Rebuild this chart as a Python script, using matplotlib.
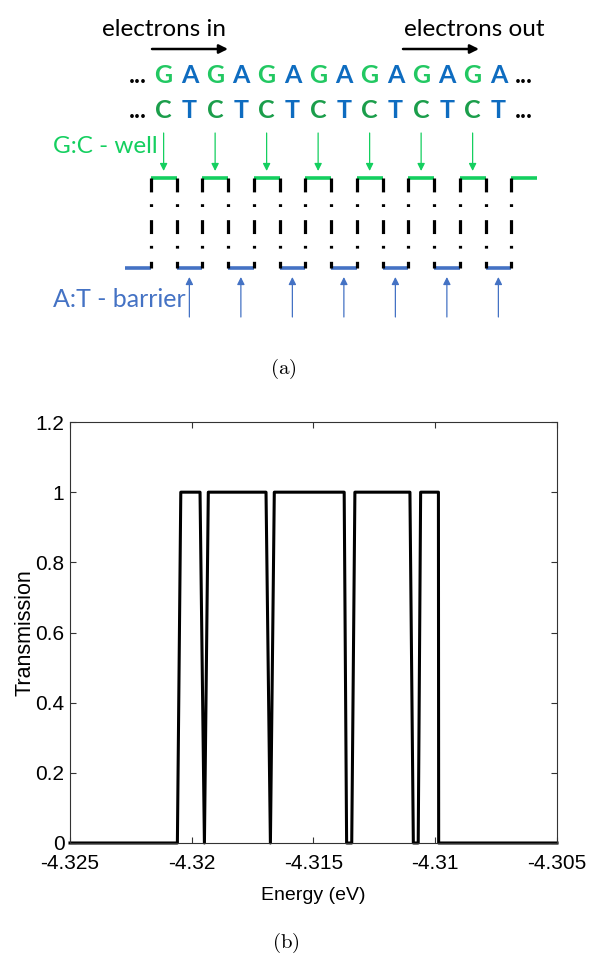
import numpy as np
import matplotlib
matplotlib.use("Agg")
import matplotlib.pyplot as plt

plt.rcParams['lines.scale_dashes'] = False
plt.rcParams['mathtext.fontset'] = 'cm'

# ---- data: panel (a) DNA chain ----
strand_top = list('GAGAGAGAGAGAGA')
strand_bot = list('CTCTCTCTCTCTCT')
profile = ['A:T', 'G:C'] * 8          # level of each site along the chain
base_colors = {'G': '#22c862', 'A': '#0e6cc0', 'C': '#1b9e4b', 'T': '#0e6cc0'}

# ---- data: panel (b) transmission vs energy ----
energy = [-4.325, -4.32059, -4.32045, -4.31966, -4.31948, -4.31932, -4.31695,
          -4.31677, -4.31661, -4.31374, -4.31364, -4.31343, -4.31330, -4.31104,
          -4.31090, -4.31070, -4.31060, -4.30987, -4.30986, -4.305]
trans = [0, 0, 1, 1, 0, 1, 1,
         0, 1, 1, 0, 0, 1, 1,
         0, 0, 1, 1, 0, 0]
xticks = [-4.325, -4.32, -4.315, -4.31, -4.305]
yticks = [0, 0.2, 0.4, 0.6, 0.8, 1.0, 1.2]

green = '#14cf5f'
blue = '#4472c4'

fig = plt.figure(figsize=(5.89, 9.69), dpi=100)

# ================= panel (a) =================
ax = fig.add_axes([0, 1 - 390 / 969, 1, 390 / 969])
ax.set_xlim(0, 589)
ax.set_ylim(390, 0)
ax.axis('off')

x0, w = 125, 25.75          # start of chain and width of one site (px)
y_well, y_bar = 178, 268
lv = {'G:C': y_well, 'A:T': y_bar}
edges = x0 + w * np.arange(len(profile) + 1)
centers = (edges[:-1] + edges[1:]) / 2

for k, p in enumerate(profile):
    ax.plot([edges[k], edges[k + 1]], [lv[p], lv[p]], lw=2.6,
            color=green if p == 'G:C' else blue, solid_capstyle='butt')
for e in edges[1:-1]:
    ax.plot([e, e], [y_well, y_bar], color='k', lw=2.3,
            dashes=(10, 8.5, 2, 9.5))

# arrows pointing at wells / barriers
for k, p in enumerate(profile):
    if p == 'G:C' and k < len(profile) - 1:
        ax.annotate('', xy=(centers[k], 171), xytext=(centers[k], 133),
                    arrowprops=dict(arrowstyle='-|>', lw=0.9, color=green,
                                    mutation_scale=11, shrinkA=0, shrinkB=0))
    if p == 'A:T' and k > 0:
        ax.annotate('', xy=(centers[k], 277), xytext=(centers[k], 317),
                    arrowprops=dict(arrowstyle='-|>', lw=0.9, color=blue,
                                    mutation_scale=11, shrinkA=0, shrinkB=0))

# base letters
for i, (a, b) in enumerate(zip(strand_top, strand_bot)):
    xc = centers[i + 1]
    ax.text(xc, 83, a, color=base_colors[a], fontsize=18, fontweight='bold',
            family='Lato', ha='center', va='baseline')
    ax.text(xc, 118, b, color=base_colors[b], fontsize=18, fontweight='bold',
            family='Lato', ha='center', va='baseline')
for xc in (centers[0], centers[-1]):
    ax.text(xc, 83, '...', fontsize=18, fontweight='bold', family='Lato',
            ha='center', va='baseline')
    ax.text(xc, 118, '...', fontsize=18, fontweight='bold', family='Lato',
            ha='center', va='baseline')

ax.text(164, 36, 'electrons in', fontsize=17.5, family='Lato',
        ha='center', va='baseline')
ax.text(474, 36, 'electrons out', fontsize=17.5, family='Lato',
        ha='center', va='baseline')
for xa, xb in ((152, 228), (403, 479)):
    ax.annotate('', xy=(xb, 49), xytext=(xa, 49),
                arrowprops=dict(arrowstyle='-|>', lw=1.8, color='k',
                                mutation_scale=13, shrinkA=0, shrinkB=0))

ax.text(53, 153, 'G:C - well', color=green, fontsize=17.5, family='Lato',
        ha='left', va='baseline')
ax.text(53, 307, 'A:T - barrier', color=blue, fontsize=18, family='Lato',
        ha='left', va='baseline')
ax.text(283, 374, r'$\mathrm{(a)}$', fontsize=15, ha='center', va='baseline')

# ================= panel (b) =================
bx = fig.add_axes([70 / 589, 1 - 843 / 969, 487 / 589, 421 / 969])
bx.plot(energy, trans, color='k', lw=2.2, clip_on=False)
bx.set_xlim(-4.325, -4.305)
bx.set_ylim(0, 1.2)
bx.set_xticks(xticks)
bx.set_yticks(yticks)
bx.set_xticklabels(['%g' % v for v in xticks])
bx.set_yticklabels(['%g' % v for v in yticks])
bx.tick_params(direction='in', length=4.5, width=0.8, top=True, right=True,
               labelsize=15, color='#333333')
bx.tick_params(axis='x', pad=8)
bx.tick_params(axis='y', pad=4)
for lab in bx.get_xticklabels() + bx.get_yticklabels():
    lab.set_family('Liberation Sans')
for s in bx.spines.values():
    s.set_linewidth(0.8)
    s.set_color('#333333')
bx.set_xlabel('Energy (eV)', fontsize=14, family='Liberation Sans', labelpad=10)
bx.set_ylabel('Transmission', fontsize=15.5, family='Liberation Sans', labelpad=0)

fig.text(286 / 589, 1 - 948 / 969, r'$\mathrm{(b)}$', fontsize=15,
         ha='center', va='baseline')

fig.savefig('out.png', dpi=100)
